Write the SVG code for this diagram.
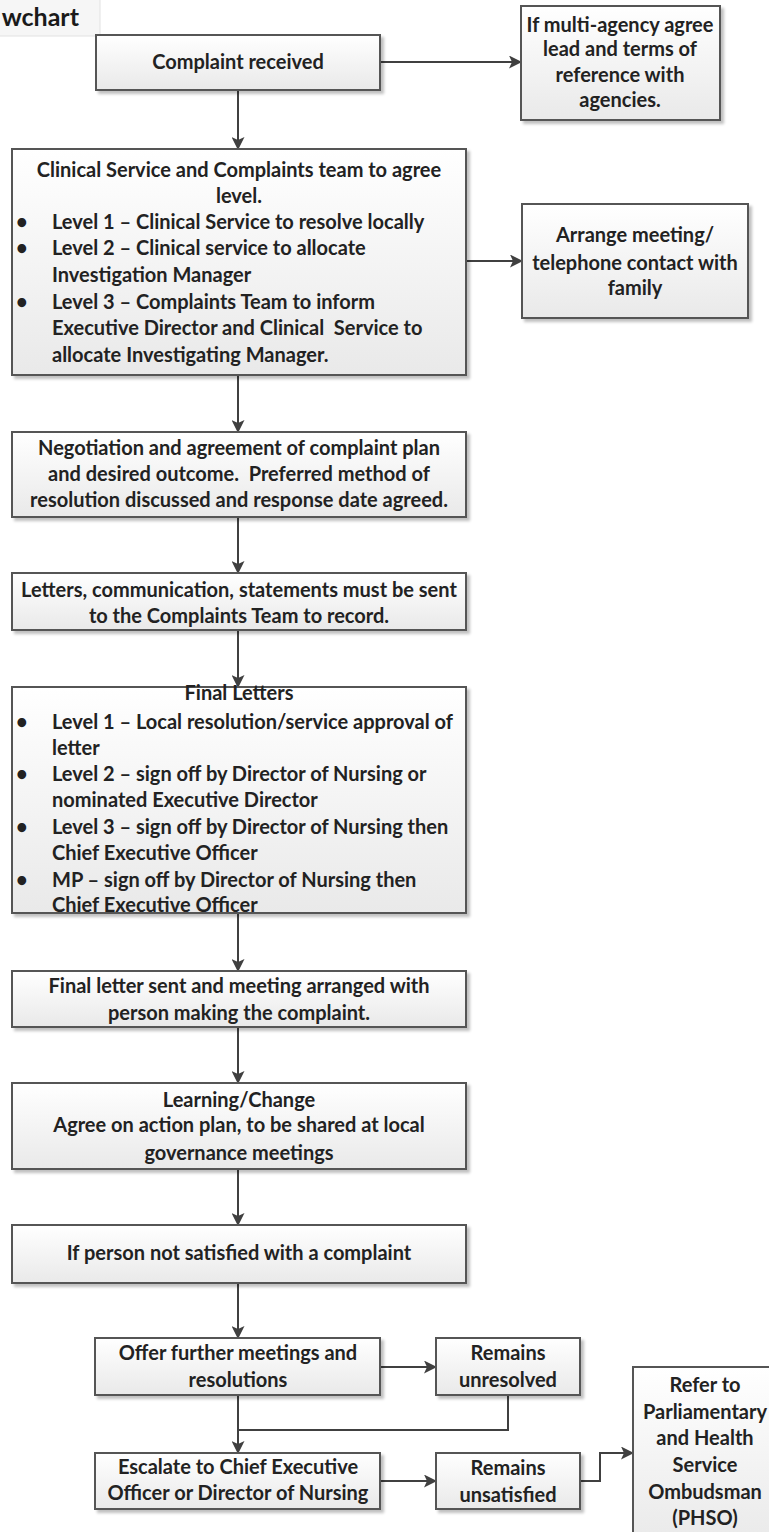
<svg xmlns="http://www.w3.org/2000/svg" width="769" height="1532" viewBox="0 0 769 1532">
<style>
.box{fill:url(#g);stroke:#555;stroke-width:2;filter:url(#sh)}
.t{font-family:Lato,"Open Sans",sans-serif;font-weight:bold;font-size:20px;fill:#222}
.c{text-anchor:middle}
.conn{stroke:#404040;stroke-width:2;fill:none}
.arr{marker-end:url(#ah)}
</style>
<defs>
<linearGradient id="g" x1="0" y1="0" x2="0" y2="1">
<stop offset="0" stop-color="#ffffff"/>
<stop offset="1" stop-color="#e9e9e9"/>
</linearGradient>
<filter id="sh" x="-10%" y="-10%" width="125%" height="130%">
<feGaussianBlur in="SourceAlpha" stdDeviation="1.5"/>
<feOffset dx="3" dy="3" result="b"/>
<feComponentTransfer><feFuncA type="linear" slope="0.25"/></feComponentTransfer>
<feMerge><feMergeNode/><feMergeNode in="SourceGraphic"/></feMerge>
</filter>
<marker id="ah" markerUnits="userSpaceOnUse" markerWidth="13" markerHeight="13" refX="12" refY="6.5" orient="auto">
<path d="M0,0 L13,6.5 L0,13 L3,6.5 z" fill="#404040"/>
</marker>
</defs>

<g id="title">
<rect x="-2" y="-2" width="102" height="38" fill="#f6f6f6" stroke="#e2e2e2" stroke-width="1"/>
<text x="79" y="26" font-family="Lato,'Open Sans',sans-serif" font-weight="bold" font-size="25" fill="#1a1a1a" text-anchor="end">wchart</text>
</g>

<g id="connectors">
<path class="conn arr" d="M380,62 H521"/>
<path class="conn arr" d="M238,90 V149"/>
<path class="conn arr" d="M466,261 H522"/>
<path class="conn arr" d="M238,375 V432"/>
<path class="conn arr" d="M238,517 V573"/>
<path class="conn arr" d="M238,630 V687"/>
<path class="conn arr" d="M238,913 V971"/>
<path class="conn arr" d="M238,1027 V1083"/>
<path class="conn arr" d="M238,1169 V1225"/>
<path class="conn arr" d="M238,1283 V1338"/>
<path class="conn arr" d="M380,1367 H436"/>
<path class="conn arr" d="M238,1395 V1453"/>
<path class="conn" d="M508,1395 V1430 H238"/>
<path class="conn arr" d="M380,1481 H436"/>
<path class="conn arr" d="M580,1481 H600 V1453 H633"/>
</g>

<g id="complaint-received">
<rect class="box" x="96" y="35" width="284" height="55"/>
<text class="t c" x="238" y="69">Complaint received</text>
</g>

<g id="multi-agency">
<rect class="box" x="521" y="6" width="199" height="114"/>
<text class="t c" x="620" y="32">If multi-agency agree</text>
<text class="t c" x="620" y="56">lead and terms of</text>
<text class="t c" x="620" y="82">reference with</text>
<text class="t c" x="620" y="107">agencies.</text>
</g>

<g id="agree-level">
<rect class="box" x="12" y="149" width="454" height="226"/>
<text class="t c" x="239" y="177">Clinical Service and Complaints team to agree</text>
<text class="t c" x="239" y="203">level.</text>
<text class="t" x="16" y="229">•</text><text class="t" x="52" y="229">Level 1 – Clinical Service to resolve locally</text>
<text class="t" x="16" y="255">•</text><text class="t" x="52" y="255">Level 2 – Clinical service to allocate</text>
<text class="t" x="52" y="282">Investigation Manager</text>
<text class="t" x="16" y="309">•</text><text class="t" x="52" y="309">Level 3 – Complaints Team to inform</text>
<text class="t" x="52" y="335" xml:space="preserve">Executive Director and Clinical  Service to</text>
<text class="t" x="52" y="362">allocate Investigating Manager.</text>
</g>

<g id="arrange-meeting">
<rect class="box" x="522" y="204" width="226" height="114"/>
<text class="t c" x="635" y="242">Arrange meeting/</text>
<text class="t c" x="635" y="270">telephone contact with</text>
<text class="t c" x="635" y="295">family</text>
</g>

<g id="negotiation">
<rect class="box" x="12" y="432" width="454" height="85"/>
<text class="t c" x="239" y="455">Negotiation and agreement of complaint plan</text>
<text class="t c" x="239" y="481" xml:space="preserve">and desired outcome.  Preferred method of</text>
<text class="t c" x="239" y="507">resolution discussed and response date agreed.</text>
</g>

<g id="letters">
<rect class="box" x="12" y="573" width="454" height="57"/>
<text class="t c" x="239" y="597">Letters, communication, statements must be sent</text>
<text class="t c" x="239" y="623">to the Complaints Team to record.</text>
</g>

<g id="final-letters">
<rect class="box" x="12" y="687" width="454" height="226"/>
<text class="t c" x="239" y="700">Final Letters</text>
<text class="t" x="16" y="729">•</text><text class="t" x="52" y="729">Level 1 – Local resolution/service approval of</text>
<text class="t" x="52" y="755">letter</text>
<text class="t" x="16" y="781">•</text><text class="t" x="52" y="781">Level 2 – sign off by Director of Nursing or</text>
<text class="t" x="52" y="807">nominated Executive Director</text>
<text class="t" x="16" y="834">•</text><text class="t" x="52" y="834">Level 3 – sign off by Director of Nursing then</text>
<text class="t" x="52" y="860">Chief Executive Officer</text>
<text class="t" x="16" y="887">•</text><text class="t" x="52" y="887">MP – sign off by Director of Nursing then</text>
<text class="t" x="52" y="912">Chief Executive Officer</text>
</g>

<g id="final-letter-sent">
<rect class="box" x="12" y="971" width="454" height="56"/>
<text class="t c" x="239" y="993">Final letter sent and meeting arranged with</text>
<text class="t c" x="239" y="1020">person making the complaint.</text>
</g>

<g id="learning-change">
<rect class="box" x="12" y="1083" width="454" height="86"/>
<text class="t c" x="239" y="1107">Learning/Change</text>
<text class="t c" x="239" y="1132">Agree on action plan, to be shared at local</text>
<text class="t c" x="239" y="1160">governance meetings</text>
</g>

<g id="not-satisfied">
<rect class="box" x="12" y="1225" width="454" height="58"/>
<text class="t c" x="239" y="1260">If person not satisfied with a complaint</text>
</g>

<g id="offer-meetings">
<rect class="box" x="95" y="1338" width="285" height="57"/>
<text class="t c" x="238" y="1360">Offer further meetings and</text>
<text class="t c" x="238" y="1387">resolutions</text>
</g>

<g id="remains-unresolved">
<rect class="box" x="436" y="1338" width="144" height="57"/>
<text class="t c" x="508" y="1360">Remains</text>
<text class="t c" x="508" y="1387">unresolved</text>
</g>

<g id="escalate">
<rect class="box" x="95" y="1453" width="285" height="56"/>
<text class="t c" x="238" y="1474">Escalate to Chief Executive</text>
<text class="t c" x="238" y="1500">Officer or Director of Nursing</text>
</g>

<g id="remains-unsatisfied">
<rect class="box" x="436" y="1453" width="144" height="56"/>
<text class="t c" x="508" y="1475" font-size="22">Remains</text>
<text class="t c" x="508" y="1502" font-size="22">unsatisfied</text>
</g>

<g id="phso">
<rect class="box" x="633" y="1367" width="146" height="180"/>
<text class="t c" x="705" y="1392">Refer to</text>
<text class="t c" x="705" y="1419">Parliamentary</text>
<text class="t c" x="705" y="1445">and Health</text>
<text class="t c" x="705" y="1472">Service</text>
<text class="t c" x="705" y="1499">Ombudsman</text>
<text class="t c" x="705" y="1525">(PHSO)</text>
</g>
</svg>
